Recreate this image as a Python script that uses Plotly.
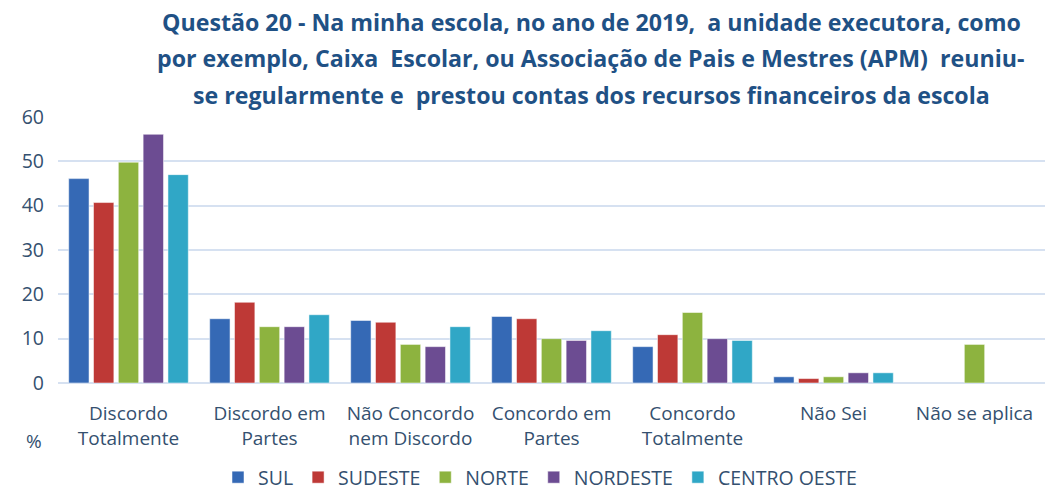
import plotly.graph_objects as go

categories = ["Discordo<br>Totalmente", "Discordo em<br>Partes", "Não Concordo<br>nem Discordo",
              "Concordo em<br>Partes", "Concordo<br>Totalmente", "Não Sei", "Não se aplica"]
series_names = ["SUL", "SUDESTE", "NORTE", "NORDESTE", "CENTRO OESTE"]
sul = [46.1, 14.5, 14.1, 15.0, 8.2, 1.4, None]
sudeste = [40.7, 18.2, 13.7, 14.5, 10.9, 1.0, None]
norte = [49.8, 12.7, 8.7, 10.0, 15.9, 1.4, 8.7]
nordeste = [56.1, 12.7, 8.2, 9.6, 10.0, 2.3, None]
centro_oeste = [47.0, 15.4, 12.7, 11.8, 9.6, 2.3, None]
y_ticks = [0, 10, 20, 30, 40, 50, 60]
title_lines = ["Questão 20 - Na minha escola, no ano de 2019,  a unidade executora, como",
               "por exemplo, Caixa  Escolar, ou Associação de Pais e Mestres (APM)  reuniu-",
               "se regularmente e  prestou contas dos recursos financeiros da escola"]

values = [sul, sudeste, norte, nordeste, centro_oeste]
colors = ["#3569B5", "#BE3936", "#8DB33F", "#6C4C92", "#30A7C6"]
FONT = "Open Sans"
TXT = "#34506F"
W, H = 1045, 497
PL, PR, PT, PB = 58, 1045, 117, 383


def px_x(x):
    return x / W


def px_y(y):
    return 1 - y / H


fig = go.Figure()
for name, vals, c in zip(series_names, values, colors):
    fig.add_trace(go.Bar(name=name, x=categories, y=vals,
                         marker=dict(color=c, line=dict(color="rgba(255,255,255,0.5)", width=1))))

for i, line in enumerate(title_lines):
    fig.add_annotation(text="<b>" + line + "</b>", x=px_x(591), y=px_y(22 + i * 36.5),
                       xref="paper", yref="paper", showarrow=False,
                       font=dict(family=FONT, size=23.2, color="#1F5185"),
                       xanchor="center", yanchor="middle")

fig.add_annotation(text="%", x=px_x(34), y=px_y(441), xref="paper", yref="paper",
                   showarrow=False, font=dict(size=19, color=TXT), xanchor="center", yanchor="middle")

fig.update_layout(
    width=W, height=H,
    paper_bgcolor="white", plot_bgcolor="white",
    margin=dict(l=0, r=0, t=0, b=0),
    barmode="group", bargap=0.12, bargroupgap=0.18,
    font=dict(family=FONT, color=TXT, size=19),
    showlegend=True,
    legend=dict(orientation="h", x=px_x(540), xanchor="center", y=0, yanchor="bottom",
                font=dict(size=19.5, color=TXT), traceorder="normal", itemwidth=30),
    xaxis=dict(domain=[px_x(PL), px_x(PR)], showline=False, ticks="",
               tickfont=dict(size=19, color=TXT), ticklabelstandoff=17, automargin=False),
    yaxis=dict(domain=[px_y(PB), px_y(PT)], range=[0, 60], tickvals=y_ticks, showgrid=True,
               gridcolor="#D6E1F1", gridwidth=1.5, zeroline=True, zerolinecolor="#D6E1F1",
               zerolinewidth=1.5, tickfont=dict(size=19.5, color=TXT), ticklabelstandoff=13,
               automargin=False),
)
fig.write_html("out.html", config={"displayModeBar": False},
               post_script="document.body.style.margin='0px';document.body.style.overflow='hidden';")
